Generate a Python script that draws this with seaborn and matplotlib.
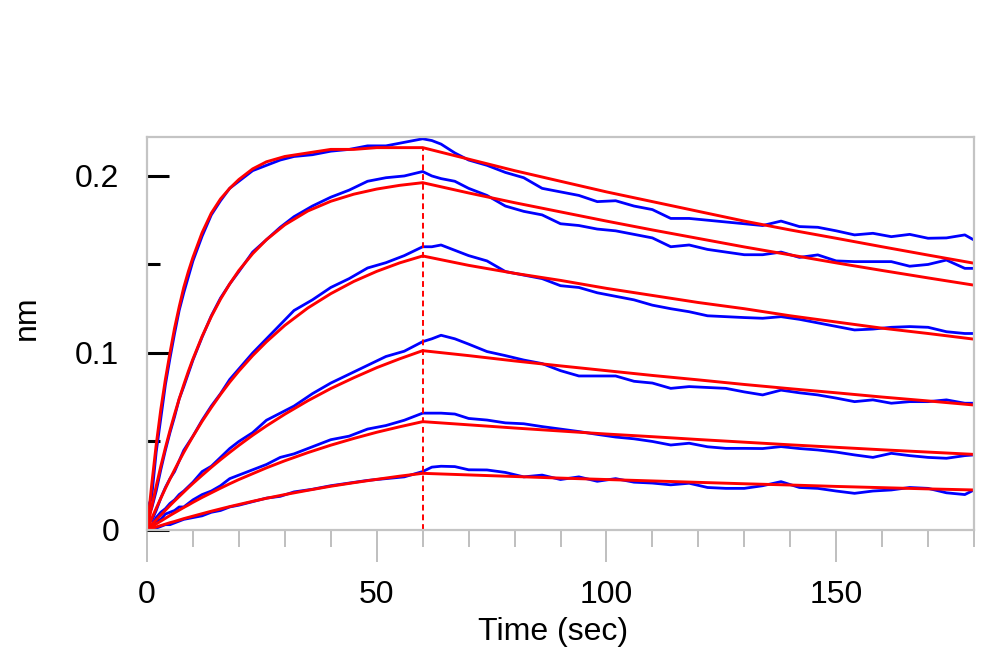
import numpy as np
import pandas as pd
import matplotlib
matplotlib.use("Agg")
import matplotlib.pyplot as plt
import matplotlib.ticker as mticker
import seaborn as sns

# times (sec) for the fitted curves and for the measured traces
t_fit = [0, 1, 2, 3, 4, 5, 6, 7, 8, 9, 10, 12, 14, 16, 18, 20, 23, 26, 30, 35, 40, 45,
         50, 55, 60, 70, 80, 90, 100, 110, 120, 130, 140, 150, 160, 170, 180]
t_data = [0, 0.5, 1, 2, 3, 4, 5, 6, 7, 8, 10, 12, 14, 16, 18, 20, 23, 26, 29, 32, 36, 40,
          44, 48, 52, 56, 60, 62, 64, 67, 70, 74, 78, 82, 86, 90, 94, 98, 102, 106, 110,
          114, 118, 122, 126, 130, 134, 138, 142, 146, 150, 154, 158, 162, 166, 170, 174,
          178, 180]
association_end = 60

# fitted curves (red), nm
fit1 = [0, 0.025, 0.048, 0.068, 0.085, 0.100, 0.114, 0.126, 0.137, 0.146, 0.154, 0.168,
        0.179, 0.187, 0.193, 0.198, 0.204, 0.208, 0.211, 0.213, 0.215, 0.215, 0.216, 0.216,
        0.216, 0.2095, 0.203, 0.197, 0.191, 0.1855, 0.180, 0.1745, 0.1695, 0.1648, 0.160,
        0.1553, 0.1507]
fit2 = [0, 0.0128, 0.0247, 0.0359, 0.0464, 0.0562, 0.0654, 0.074, 0.082, 0.0896, 0.0966,
        0.1094, 0.1206, 0.1304, 0.139, 0.1466, 0.1561, 0.164, 0.1724, 0.1802, 0.1857,
        0.1897, 0.1926, 0.1947, 0.1962, 0.1904, 0.1849, 0.1797, 0.1745, 0.1695, 0.1647,
        0.1599, 0.1554, 0.1509, 0.1466, 0.1424, 0.1383]
fit3 = [0, 0.0062, 0.0122, 0.0179, 0.0235, 0.0288, 0.034, 0.039, 0.0438, 0.0484, 0.0529,
        0.0614, 0.0692, 0.0766, 0.0835, 0.0898, 0.0985, 0.1063, 0.1156, 0.1254, 0.1335,
        0.1404, 0.1461, 0.1509, 0.1548, 0.1495, 0.145, 0.141, 0.1365, 0.1325, 0.1285,
        0.125, 0.121, 0.1175, 0.114, 0.111, 0.1078]
fit4 = [0, 0.0029, 0.0057, 0.0084, 0.0111, 0.0138, 0.0164, 0.0189, 0.0214, 0.0239, 0.0263,
        0.0309, 0.0354, 0.0397, 0.0438, 0.0478, 0.0535, 0.0588, 0.0654, 0.073, 0.0799,
        0.086, 0.0917, 0.0967, 0.1013, 0.0985, 0.0955, 0.0927, 0.09, 0.0873, 0.0848,
        0.0822, 0.0798, 0.0775, 0.0751, 0.0729, 0.0706]
fit5 = [0, 0.0017, 0.0034, 0.005, 0.0066, 0.0082, 0.0097, 0.0112, 0.0127, 0.0141, 0.0156,
        0.0184, 0.021, 0.0236, 0.0261, 0.0285, 0.0318, 0.0351, 0.0391, 0.0437, 0.0479,
        0.0517, 0.0552, 0.0583, 0.0612, 0.0594, 0.0576, 0.0559, 0.0542, 0.0527, 0.0511,
        0.0496, 0.0481, 0.0467, 0.0453, 0.044, 0.0427]
fit6 = [0, 0.0008, 0.0017, 0.0025, 0.0033, 0.0041, 0.0048, 0.0056, 0.0064, 0.0071, 0.0078,
        0.0092, 0.0106, 0.0119, 0.0132, 0.0144, 0.0162, 0.0179, 0.02, 0.0224, 0.0247,
        0.0267, 0.0286, 0.0304, 0.032, 0.0311, 0.0302, 0.0293, 0.0285, 0.0277, 0.0269,
        0.0261, 0.0254, 0.0246, 0.0239, 0.0232, 0.0226]

# measured traces (blue), nm
data1 = [0.008, 0.015, 0.018, 0.044, 0.063, 0.082, 0.097, 0.111, 0.124, 0.134, 0.152,
         0.166, 0.178, 0.186, 0.193, 0.197, 0.203, 0.206, 0.209, 0.211, 0.212, 0.214,
         0.215, 0.217, 0.217, 0.219, 0.221,
         0.220, 0.218, 0.213, 0.209, 0.206, 0.202, 0.199, 0.193, 0.191, 0.189, 0.1855,
         0.186, 0.183, 0.181, 0.176, 0.176, 0.175, 0.174, 0.173, 0.172, 0.1745, 0.1714,
         0.171, 0.169, 0.1667, 0.1676, 0.1657, 0.167, 0.1648, 0.165, 0.1667, 0.1638]
data2 = [0.004, 0.010, 0.012, 0.022, 0.034, 0.045, 0.055, 0.064, 0.074, 0.081, 0.096,
         0.109, 0.121, 0.131, 0.139, 0.146, 0.157, 0.164, 0.171, 0.177, 0.183, 0.188,
         0.192, 0.197, 0.199, 0.200, 0.2025,
         0.200, 0.1985, 0.197, 0.193, 0.189, 0.183, 0.180, 0.178, 0.173, 0.172, 0.170,
         0.169, 0.167, 0.165, 0.160, 0.161, 0.1585, 0.157, 0.1555, 0.1555, 0.157, 0.154,
         0.1554, 0.152, 0.1516, 0.1516, 0.1516, 0.149, 0.150, 0.1525, 0.1478, 0.1478]
data3 = [0.002, 0.006, 0.005, 0.011, 0.018, 0.024, 0.029, 0.033, 0.039, 0.045, 0.053,
         0.062, 0.070, 0.077, 0.085, 0.091, 0.100, 0.108, 0.116, 0.124, 0.130, 0.137,
         0.142, 0.148, 0.151, 0.155, 0.160,
         0.160, 0.161, 0.158, 0.155, 0.152, 0.146, 0.144, 0.142, 0.138, 0.137, 0.134,
         0.132, 0.130, 0.127, 0.125, 0.1233, 0.121, 0.1205, 0.120, 0.1196, 0.1205, 0.119,
         0.117, 0.115, 0.113, 0.1135, 0.1145, 0.1149, 0.1145, 0.112, 0.111, 0.111]
data4 = [0.001, 0.004, 0.002, 0.007, 0.010, 0.012, 0.015, 0.017, 0.020, 0.022, 0.027,
         0.033, 0.036, 0.041, 0.046, 0.050, 0.055, 0.062, 0.066, 0.070, 0.077, 0.083,
         0.088, 0.093, 0.098, 0.101, 0.1064,
         0.108, 0.110, 0.108, 0.105, 0.1008, 0.0985, 0.096, 0.094, 0.090, 0.087, 0.087,
         0.087, 0.084, 0.083, 0.080, 0.081, 0.0805, 0.080, 0.078, 0.0763, 0.079, 0.0775,
         0.0763, 0.0745, 0.0725, 0.0735, 0.0716, 0.0725, 0.0725, 0.0735, 0.0716, 0.0716]
data5 = [-0.001, 0.003, 0.002, 0.005, 0.006, 0.009, 0.010, 0.011, 0.013, 0.013, 0.017,
         0.020, 0.022, 0.025, 0.029, 0.031, 0.034, 0.037, 0.041, 0.043, 0.047, 0.051,
         0.053, 0.057, 0.059, 0.062, 0.066,
         0.066, 0.066, 0.0655, 0.063, 0.0621, 0.0605, 0.060, 0.0584, 0.057, 0.0556, 0.054,
         0.0525, 0.0515, 0.050, 0.048, 0.049, 0.047, 0.0461, 0.0461, 0.046, 0.0471, 0.046,
         0.0452, 0.044, 0.0424, 0.041, 0.0433, 0.042, 0.041, 0.0405, 0.042, 0.0424]
data6 = [0.002, 0.000, 0.001, 0.001, 0.002, 0.003, 0.003, 0.004, 0.005, 0.006, 0.007,
         0.008, 0.010, 0.011, 0.013, 0.014, 0.016, 0.018, 0.019, 0.0215, 0.023, 0.025,
         0.0265, 0.028, 0.029, 0.030, 0.033,
         0.0355, 0.036, 0.0358, 0.034, 0.0339, 0.0325, 0.030, 0.031, 0.0285, 0.030, 0.0275,
         0.029, 0.027, 0.0265, 0.0255, 0.0264, 0.024, 0.0235, 0.0235, 0.025, 0.0273, 0.024,
         0.0235, 0.022, 0.0207, 0.022, 0.0226, 0.024, 0.0235, 0.021, 0.020, 0.0226]

fits = [fit1, fit2, fit3, fit4, fit5, fit6]
traces = [data1, data2, data3, data4, data5, data6]

df_fit = pd.concat([pd.DataFrame({"time": t_fit, "nm": f, "curve": i})
                    for i, f in enumerate(fits)], ignore_index=True)
df_data = pd.concat([pd.DataFrame({"time": t_data, "nm": d, "curve": i})
                     for i, d in enumerate(traces)], ignore_index=True)

sns.set_style("white")
plt.rcParams["font.family"] = ["Liberation Sans", "DejaVu Sans"]
plt.rcParams["text.color"] = "black"
plt.rcParams["axes.labelcolor"] = "black"
plt.rcParams["xtick.color"] = "black"
plt.rcParams["ytick.color"] = "black"

fig = plt.figure(figsize=(10, 6.7), dpi=100)
ax = fig.add_axes([0.147, 0.209, 0.827, 0.5865])

sns.lineplot(data=df_data, x="time", y="nm", units="curve", estimator=None, sort=False,
             color="#0000ff", linewidth=2.0, ax=ax)
sns.lineplot(data=df_fit, x="time", y="nm", units="curve", estimator=None, sort=False,
             color="#ff0000", linewidth=2.1, ax=ax)

# end of association step
ax.vlines(association_end, 0, fit1[t_fit.index(association_end)], colors="#ff0000",
          linestyles=(0, (3, 2)), linewidth=1.4)

ax.set_xlim(0, 180)
ax.set_ylim(0, 0.222)

ax.xaxis.set_major_locator(mticker.MultipleLocator(50))
ax.xaxis.set_minor_locator(mticker.MultipleLocator(10))
ax.yaxis.set_major_locator(mticker.MultipleLocator(0.1))
ax.yaxis.set_minor_locator(mticker.MultipleLocator(0.05))
ax.yaxis.set_major_formatter(mticker.FuncFormatter(lambda v, p: f"{v:g}"))

ax.tick_params(which="both", bottom=True, left=True, top=False, right=False)
ax.tick_params(axis="x", which="major", direction="out", length=23, width=1.2,
               color="#b4b4b4", labelcolor="black", labelsize=23, pad=13)
ax.tick_params(axis="x", which="minor", direction="out", length=12, width=1.2,
               color="#b4b4b4")
ax.tick_params(axis="y", which="major", direction="in", length=16, width=2.2,
               color="black", labelcolor="black", labelsize=23, pad=20)
ax.tick_params(axis="y", which="minor", direction="in", length=9.5, width=2.2,
               color="black")

for s in ax.spines.values():
    s.set_color("#c4c4c4")
    s.set_linewidth(1.6)

ax.set_xlabel("Time (sec)", fontsize=23, color="black")
ax.set_ylabel("nm", fontsize=23, color="black")
ax.xaxis.set_label_coords(0.491, -0.222)
ax.yaxis.set_label_coords(-0.127, 0.54)

fig.savefig("out.png", dpi=100)
